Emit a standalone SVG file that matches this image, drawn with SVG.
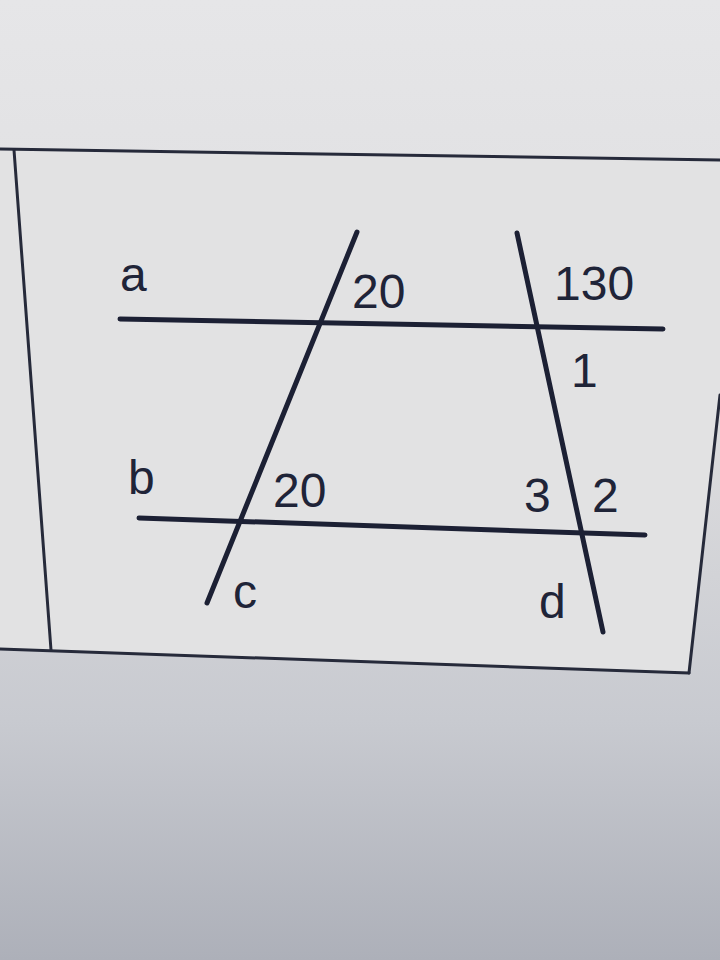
<svg xmlns="http://www.w3.org/2000/svg" width="720" height="960" viewBox="0 0 720 960">
  <defs>
    <linearGradient id="bg" x1="0" y1="0" x2="0" y2="1">
      <stop offset="0" stop-color="#e6e6e8"/>
      <stop offset="0.45" stop-color="#dcdcde"/>
      <stop offset="0.75" stop-color="#c8cad0"/>
      <stop offset="1" stop-color="#adb0b9"/>
    </linearGradient>
    <style>
      .frame { stroke: #262a3a; stroke-width: 3; fill: none; stroke-linecap: round; }
      .ln { stroke: #1c2034; stroke-width: 5; fill: none; stroke-linecap: round; }
      .lbl { font-family: "Liberation Sans", Arial, sans-serif; font-size: 48px; fill: #1f2438; }
    </style>
  </defs>
  <rect x="0" y="0" width="720" height="960" fill="url(#bg)"/>
  <path d="M0,648 L688,672 L720,395 L720,160 L0,148 Z" fill="#e2e2e3"/>

  <g id="frame">
    <line class="frame" x1="0" y1="149" x2="720" y2="160"/>
    <line class="frame" x1="14" y1="150" x2="51" y2="650"/>
    <line class="frame" x1="0" y1="649" x2="689" y2="673"/>
    <line class="frame" x1="720" y1="395" x2="689" y2="673"/>
  </g>

  <g id="connectors">
    <line id="line-a" class="ln" x1="120" y1="319" x2="663" y2="329"/>
    <line id="line-b" class="ln" x1="139" y1="518" x2="645" y2="535"/>
    <line id="line-c" class="ln" x1="357" y1="232" x2="207" y2="603"/>
    <line id="line-d" class="ln" x1="517" y1="233" x2="603" y2="632"/>
  </g>

  <g id="labels">
    <text class="lbl" x="120" y="291">a</text>
    <text class="lbl" x="128" y="494">b</text>
    <text class="lbl" x="233" y="608">c</text>
    <text class="lbl" x="539" y="618">d</text>
    <text class="lbl" x="352" y="308">20</text>
    <text class="lbl" x="554" y="300">130</text>
    <text class="lbl" x="571" y="387">1</text>
    <text class="lbl" x="273" y="507">20</text>
    <text class="lbl" x="524" y="512">3</text>
    <text class="lbl" x="592" y="512">2</text>
  </g>
</svg>
